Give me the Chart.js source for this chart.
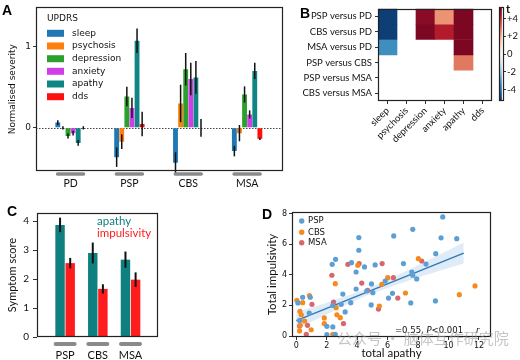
<!DOCTYPE html>
<html><head><meta charset="utf-8">
<script src="https://cdn.jsdelivr.net/npm/chart.js@4.4.1/dist/chart.umd.min.js"></script>
<style>
html,body{margin:0;padding:0;background:#fff;}
body{width:520px;height:360px;position:relative;overflow:hidden;}
canvas{position:absolute;}
.pl{position:absolute;font:bold 14px "Liberation Sans",Arial,sans-serif;color:#000;line-height:14px;}
.wm{position:absolute;left:337px;top:329px;font:15px "Noto Sans CJK SC";color:rgba(150,150,150,0.55);white-space:nowrap;line-height:18px;}
</style></head><body>
<canvas id="cA" width="290" height="195" style="left:0;top:0"></canvas>
<canvas id="cB" width="205" height="150" style="left:290px;top:0"></canvas>
<canvas id="cBar" width="26" height="110" style="left:494px;top:0"></canvas>
<canvas id="cC" width="165" height="165" style="left:0;top:195px"></canvas>
<canvas id="cD" width="260" height="165" style="left:260px;top:195px"></canvas>
<div class="pl" style="left:2px;top:3px">A</div>
<div class="pl" style="left:300px;top:6px">B</div>
<div class="pl" style="left:7px;top:204px">C</div>
<div class="pl" style="left:262px;top:207px">D</div>
<div class="wm">公众号 · 脑体互作研究院</div>
<script>
// ---------- Panel A data ----------
const groupsA = ['PD','PSP','CBS','MSA'];
const seriesNamesA = ['sleep','psychosis','depression','anxiety','apathy','dds'];
const sleepA = [0.065,-0.36,-0.43,-0.285];
const sleepErrA = [0.03,0.12,0.13,0.065];
const psychosisA = [0.0,-0.17,0.30,-0.065];
const psychosisErrA = [0.02,0.09,0.23,0.10];
const depressionA = [-0.10,0.385,0.72,0.41];
const depressionErrA = [0.03,0.12,0.20,0.10];
const anxietyA = [-0.065,0.245,0.60,0.165];
const anxietyErrA = [0.03,0.125,0.20,0.05];
const apathyA = [-0.185,1.07,0.62,0.70];
const apathyErrA = [0.035,0.15,0.20,0.10];
const ddsA = [0.0,0.048,0.0,-0.135];
const ddsErrA = [0.02,0.15,0.11,0.015];
const yTicksA = [0,1];

// ---------- Panel B data ----------
const comparisons = ['PSP versus PD','CBS versus PD','MSA versus PD','PSP versus CBS','PSP versus MSA','CBS versus MSA'];
const symptomsB = ['sleep','psychosis','depression','anxiety','apathy','dds'];
const tPSPvPD  = [-5.0,0,4.8,2.4,5.0,0];
const tCBSvPD  = [-5.0,0,5.0,4.2,5.0,0];
const tMSAvPD  = [-3.3,0,0,0,5.0,0];
const tPSPvCBS = [0,0,0,0,2.8,0];
const tPSPvMSA = [0,0,0,0,0,0];
const tCBSvMSA = [0,0,0,0,0,0];
const cbarTicks = [-4,-2,0,2,4];

// ---------- Panel C data ----------
const groupsC = ['PSP','CBS','MSA'];
const apathyC = [3.87,2.90,2.67];
const apathyErrC = [0.25,0.36,0.28];
const impulsivityC = [2.55,1.66,1.98];
const impulsivityErrC = [0.18,0.16,0.25];
const yTicksC = [0,1,2,3,4];

// ---------- Panel D data ----------
const pspPoints = [[9.62,7.78],[7.65,6.97],[4.11,6.43],[6.40,6.54],[9.51,6.41],[10.54,6.36],[4.11,5.60],[9.16,5.38],[2.58,5.01],[2.36,4.68],[3.63,4.79],[4.48,4.51],[5.18,4.64],[3.93,4.18],[7.04,4.73],[8.52,4.70],[7.59,4.18],[7.65,3.97],[7.91,3.73],[5.84,3.59],[4.94,3.40],[3.06,2.74],[3.93,3.07],[4.63,2.94],[5.03,2.83],[6.32,2.79],[6.06,2.48],[3.58,2.18],[4.92,2.03],[2.95,2.07],[2.40,2.00],[3.21,1.57],[7.52,2.16],[9.14,2.29],[0.42,2.53],[0.11,2.16],[0.92,2.53],[0.85,1.50],[0.22,1.02],[2.01,0.63],[2.40,0.59],[2.01,0.09],[2.56,0.11]];
const cbsPoints = [[8.02,5.05],[4.04,4.62],[6.01,3.81],[5.62,3.38],[2.56,3.42],[7.17,2.81],[0.04,2.33],[0.87,2.64],[0.42,2.18],[0.24,1.61],[0.33,1.39],[2.62,1.85],[5.46,1.96],[1.84,1.18],[1.84,0.81],[2.67,1.39],[2.89,1.20],[0.55,0.98],[0.26,0.70],[0.98,0.41],[0.22,0.33],[2.40,0.11],[10.71,2.70],[11.74,3.27]];
const msaPoints = [[3.39,4.68],[4.13,4.73],[5.64,4.73],[8.24,4.90],[2.34,3.97],[4.30,3.46],[6.38,3.81],[4.68,2.98],[6.67,2.48],[2.45,2.22],[1.03,2.07],[5.40,1.76],[3.10,0.81],[0.22,0.65],[0.74,0.70],[0.66,0.11]];
const fitX = [0,11];
const fitY = [1.0,5.42];
const bandX = [0,1,2,3,4,5,6,7,8,9,10,11];
const bandUpper = [1.58,1.87,2.18,2.51,2.85,3.23,3.68,4.14,4.62,5.11,5.60,6.10];
const bandLower = [0.42,0.93,1.42,1.91,2.37,2.79,3.14,3.48,3.82,4.13,4.44,4.74];
const xTicksD = [0,2,4,6,8,10,12];
const yTicksD = [0,2,4,6,8];

// ---------- common ----------
Chart.defaults.font.family = 'Lato, sans-serif';
Chart.defaults.color = '#111';
const DJ = 'DejaVu Sans';
const base = {responsive:false, animation:false, devicePixelRatio:1};
const noLegend = {legend:{display:false}, tooltip:{enabled:false}};

const boxPlugin = {id:'box', afterDraw(chart){
  const a = chart.chartArea, c = chart.ctx;
  c.save(); c.strokeStyle = '#222'; c.lineWidth = 1.2;
  c.strokeRect(Math.round(a.left)+0.5, Math.round(a.top)+0.5, Math.round(a.right-a.left)-1, Math.round(a.bottom-a.top)-1);
  c.restore();
}};
const errPlugin = {id:'errbars', afterDatasetsDraw(chart, args, opts){
  const c = chart.ctx, ys = chart.scales.y;
  chart.data.datasets.forEach((ds,i)=>{
    if(!ds.err) return;
    chart.getDatasetMeta(i).data.forEach((bar,j)=>{
      const v = ds.data[j].y, e = ds.err[j];
      c.save(); c.strokeStyle = '#111'; c.lineWidth = opts.width || 1.5;
      c.beginPath(); c.moveTo(bar.x, ys.getPixelForValue(v-e)); c.lineTo(bar.x, ys.getPixelForValue(v+e)); c.stroke(); c.restore();
    });
  });
}};
const markerPlugin = {id:'markers', afterDraw(chart, args, o){
  const xs = chart.scales.x, c = chart.ctx, y = chart.chartArea.bottom + o.dy;
  c.save(); c.strokeStyle = '#8a8a8a'; c.lineWidth = o.lw; c.lineCap = 'round';
  o.values.forEach(v=>{ const px = xs.getPixelForValue(v); c.beginPath(); c.moveTo(px-o.half, y); c.lineTo(px+o.half, y); c.stroke(); });
  c.restore();
}};

// ---------- Panel A ----------
const valsA = [sleepA,psychosisA,depressionA,anxietyA,apathyA,ddsA];
const errsA = [sleepErrA,psychosisErrA,depressionErrA,anxietyErrA,apathyErrA,ddsErrA];
const colorsA = ['#1f77b4','#ff7f0e','#2ca02c','#d03ee8','#108585','#ff1010'];
const zeroLine = {id:'zero', beforeDatasetsDraw(chart){
  const a = chart.chartArea, c = chart.ctx, y = Math.round(chart.scales.y.getPixelForValue(0))+0.5;
  c.save(); c.strokeStyle = '#444'; c.lineWidth = 1; c.setLineDash([1.5,1.5]);
  c.beginPath(); c.moveTo(a.left, y); c.lineTo(a.right, y); c.stroke(); c.restore();
}};
const legendA = {id:'legA', afterDraw(chart){
  const c = chart.ctx; c.save();
  c.font = '9px "DejaVu Sans"'; c.fillStyle = '#111'; c.textBaseline = 'middle';
  c.fillText('UPDRS', 47, 18.5);
  const ys = [33.3,46,58.7,71.3,84,96.7];
  chart.data.datasets.forEach((ds,k)=>{
    c.fillStyle = ds.backgroundColor; c.fillRect(47, ys[k]-3.5, 17, 7);
    c.fillStyle = '#111'; c.fillText(ds.label, 72, ys[k]);
  });
  c.restore();
}};
new Chart(document.getElementById('cA'), {
  type:'bar',
  data:{datasets: seriesNamesA.map((n,k)=>({label:n, data: valsA[k].map((v,i)=>({x:i,y:v})), err: errsA[k],
      backgroundColor: colorsA[k], barPercentage:0.95, categoryPercentage:0.52}))},
  options:{...base, layout:{padding:{top:5,right:7,left:0,bottom:0}},
    plugins:{...noLegend, errbars:{width:1.5}, markers:{values:[0,1,2,3], half:13, lw:3.5, dy:3}},
    scales:{
      x:{type:'linear', offset:false, min:-0.587, max:3.61,
         afterBuildTicks:ax=>{ax.ticks = groupsA.map((_,i)=>({value:i}));},
         afterFit:s=>{s.height = 24;},
         ticks:{callback:v=>groupsA[v], font:{size:10.5}, padding:6, maxRotation:0, autoSkip:false},
         grid:{display:false, drawTicks:false, offset:false}, border:{display:false}},
      y:{min:-0.53, max:1.48,
         afterBuildTicks:ax=>{ax.ticks = yTicksA.map(v=>({value:v}));},
         afterFit:s=>{s.width = 36;},
         ticks:{font:{family:DJ,size:9}, padding:2},
         grid:{drawOnChartArea:false, drawTicks:true, tickLength:3, color:'#333'}, border:{display:false},
         title:{display:true, text:'Normalised severity', font:{family:DJ,size:9}, padding:{top:7,bottom:0}}}
    }},
  plugins:[zeroLine, errPlugin, markerPlugin, boxPlugin, legendA]
});

// ---------- Panel B ----------
const tRows = [tPSPvPD,tCBSvPD,tMSAvPD,tPSPvCBS,tPSPvMSA,tCBSvMSA];
const rdbuStops = ['#053061','#2166ac','#4393c3','#92c5de','#d1e5f0','#f7f7f7','#fddbc7','#f4a582','#d6604d','#b2182b','#67001f'];
const TMAX = 5.3;
function hex2rgb(h){return [1,3,5].map(i=>parseInt(h.substr(i,2),16));}
function rdbu(t){
  const f = Math.max(0, Math.min(1, (t+TMAX)/(2*TMAX)))*10;
  const i = Math.min(9, Math.floor(f)), u = f-i;
  const a = hex2rgb(rdbuStops[i]), b = hex2rgb(rdbuStops[i+1]);
  return 'rgb('+a.map((x,k)=>Math.round(x+(b[k]-x)*u)).join(',')+')';
}
new Chart(document.getElementById('cB'), {
  type:'bar',
  data:{labels: symptomsB,
    datasets: comparisons.map((name,r)=>({label:name, data: tRows[r].map(()=>[5-r,6-r]),
      backgroundColor: tRows[r].map(t=> t===0 ? 'rgba(255,255,255,0)' : rdbu(t)),
      barPercentage:1, categoryPercentage:1, grouped:false, borderWidth:0}))},
  options:{...base, layout:{padding:{top:6,right:3,left:0,bottom:0}},
    plugins:{...noLegend},
    scales:{
      x:{type:'category', offset:true,
         afterFit:s=>{s.height = 49;},
         ticks:{font:{size:9.5}, minRotation:45, maxRotation:45, padding:1, autoSkip:false},
         grid:{offset:false, drawOnChartArea:false, drawTicks:true, tickLength:3, color:'#333'}, border:{display:false}},
      y:{min:0, max:6,
         afterBuildTicks:ax=>{ax.ticks = comparisons.map((_,i)=>({value:5.5-i}));},
         afterFit:s=>{s.width = 88;},
         ticks:{callback:v=>comparisons[Math.round(5.5-v)], font:{size:9.5}, padding:3, autoSkip:false},
         grid:{drawOnChartArea:false, drawTicks:true, tickLength:3, color:'#333'}, border:{display:false}}
    }},
  plugins:[boxPlugin]
});
// colorbar
const cbarLabel = {id:'cbl', afterDraw(chart){
  const c = chart.ctx; c.save(); c.font = 'bold 11px Lato'; c.fillStyle = '#111'; c.textBaseline = 'alphabetic';
  c.fillText('t', chart.chartArea.right + 2, 13); c.restore();
}};
new Chart(document.getElementById('cBar'), {
  type:'bar',
  data:{labels:['t'], datasets:[{data:[[-TMAX,TMAX]], barPercentage:1, categoryPercentage:1, borderWidth:0,
    backgroundColor:(ctx)=>{
      const a = ctx.chart.chartArea; if(!a) return '#ccc';
      const g = ctx.chart.ctx.createLinearGradient(0, a.bottom, 0, a.top);
      rdbuStops.forEach((s,i)=>g.addColorStop(i/10, s)); return g;
    }}]},
  options:{...base, layout:{padding:{top:7,right:0,left:5,bottom:9}},
    plugins:{...noLegend},
    scales:{
      x:{display:false, offset:false},
      y:{position:'right', min:-TMAX, max:TMAX,
         afterBuildTicks:ax=>{ax.ticks = cbarTicks.map(v=>({value:v}));},
         afterFit:s=>{s.width = 16;},
         ticks:{callback:v=> v>0 ? '+'+v : String(v), font:{size:9.5}, padding:1},
         grid:{drawOnChartArea:false, drawTicks:true, tickLength:2, color:'#333'}, border:{display:false}}
    }},
  plugins:[boxPlugin, cbarLabel]
});

// ---------- Panel C ----------
const legendC = {id:'legC', afterDraw(chart){
  const c = chart.ctx; c.save(); c.font = '11.5px Lato'; c.textBaseline = 'middle';
  c.fillStyle = chart.data.datasets[0].backgroundColor; c.fillText(chart.data.datasets[0].label, 97, 26.7);
  c.fillStyle = chart.data.datasets[1].backgroundColor; c.fillText(chart.data.datasets[1].label, 97, 38.3);
  c.restore();
}};
new Chart(document.getElementById('cC'), {
  type:'bar',
  data:{datasets:[
    {label:'apathy', data: apathyC.map((v,i)=>({x:i,y:v})), err: apathyErrC, backgroundColor:'#0f8080', barPercentage:0.93, categoryPercentage:0.62},
    {label:'impulsivity', data: impulsivityC.map((v,i)=>({x:i,y:v})), err: impulsivityErrC, backgroundColor:'#ff1c1c', barPercentage:0.93, categoryPercentage:0.62}
  ]},
  options:{...base, layout:{padding:{top:18,right:7,left:0,bottom:0}},
    plugins:{...noLegend, errbars:{width:2}, markers:{values:[0,1,2], half:9.5, lw:4, dy:7}},
    scales:{
      x:{type:'linear', offset:false, min:-0.86, max:2.84,
         afterBuildTicks:ax=>{ax.ticks = groupsC.map((_,i)=>({value:i}));},
         afterFit:s=>{s.height = 23;},
         ticks:{callback:v=>groupsC[v], font:{size:11}, padding:12, maxRotation:0, autoSkip:false},
         grid:{display:false, drawTicks:false, offset:false}, border:{display:false}},
      y:{min:0, max:4.28,
         afterBuildTicks:ax=>{ax.ticks = yTicksC.map(v=>({value:v}));},
         afterFit:s=>{s.width = 37;},
         ticks:{font:{size:10}, padding:4},
         grid:{drawOnChartArea:false, drawTicks:true, tickLength:4, color:'#333'}, border:{display:false},
         title:{display:true, text:'Symptom score', font:{size:11}, padding:{top:6,bottom:0}}}
    }},
  plugins:[errPlugin, markerPlugin, boxPlugin, legendC]
});

// ---------- Panel D ----------
const colPSP = '#5d9fd3', colCBS = '#f58a1f', colMSA = '#d9666c';
const legendD = {id:'legD', afterDraw(chart){
  const c = chart.ctx; c.save(); c.font = '8.5px "DejaVu Sans"'; c.textBaseline = 'middle';
  const ys = [26,37.3,47.7];
  [0,1,2].forEach(k=>{
    const ds = chart.data.datasets[k];
    c.fillStyle = ds.backgroundColor; c.beginPath(); c.arc(41.7, ys[k], 2.7, 0, Math.PI*2); c.fill();
    c.fillStyle = '#111'; c.fillText(ds.label, 48, ys[k]);
  });
  c.textBaseline = 'alphabetic'; let x = 135; const y = 137.7;
  const parts = [['=0.55, ',''],['P','italic '],['<0.001','']];
  parts.forEach(p=>{ c.font = p[1]+'8.5px "DejaVu Sans"'; c.fillText(p[0], x, y); x += c.measureText(p[0]).width; });
  c.font = 'italic 8.5px "DejaVu Sans"'; c.fillText('r', 216, y);
  c.restore();
}};
const pts = arr => arr.map(p=>({x:p[0], y:p[1]}));
new Chart(document.getElementById('cD'), {
  type:'scatter',
  data:{datasets:[
    {label:'PSP', data: pts(pspPoints), backgroundColor: colPSP, borderWidth:0, pointRadius:2.6},
    {label:'CBS', data: pts(cbsPoints), backgroundColor: colCBS, borderWidth:0, pointRadius:2.6},
    {label:'MSA', data: pts(msaPoints), backgroundColor: colMSA, borderWidth:0, pointRadius:2.6},
    {label:'fit', data: fitX.map((x,i)=>({x, y:fitY[i]})), showLine:true, pointRadius:0, borderColor:'#2e78b6', borderWidth:1.3},
    {label:'lower', data: bandX.map((x,i)=>({x, y:bandLower[i]})), showLine:true, pointRadius:0, borderWidth:0, borderColor:'rgba(0,0,0,0)', tension:0.3},
    {label:'upper', data: bandX.map((x,i)=>({x, y:bandUpper[i]})), showLine:true, pointRadius:0, borderWidth:0, borderColor:'rgba(0,0,0,0)', tension:0.3,
      fill:'-1', backgroundColor:'rgba(110,165,220,0.22)'}
  ]},
  options:{...base, layout:{padding:{top:17,right:29,left:0,bottom:0}},
    plugins:{...noLegend},
    scales:{
      x:{type:'linear', min:-0.28, max:12.79,
         afterBuildTicks:ax=>{ax.ticks = xTicksD.map(v=>({value:v}));},
         afterFit:s=>{s.height = 23;},
         ticks:{font:{family:DJ,size:8}, padding:1, maxRotation:0},
         grid:{drawOnChartArea:false, drawTicks:true, tickLength:3, color:'#333'}, border:{display:false},
         title:{display:true, text:'total apathy', font:{size:11.5}, padding:{top:0,bottom:0}}},
      y:{min:-0.065, max:8.1,
         afterBuildTicks:ax=>{ax.ticks = yTicksD.map(v=>({value:v}));},
         afterFit:s=>{s.width = 32;},
         ticks:{font:{family:DJ,size:8}, padding:2},
         grid:{drawOnChartArea:false, drawTicks:true, tickLength:3, color:'#333'}, border:{display:false},
         title:{display:true, text:'Total impulsivity', font:{size:11.5}, padding:{top:5,bottom:0}}}
    }},
  plugins:[boxPlugin, legendD]
});
</script>
</body></html>
